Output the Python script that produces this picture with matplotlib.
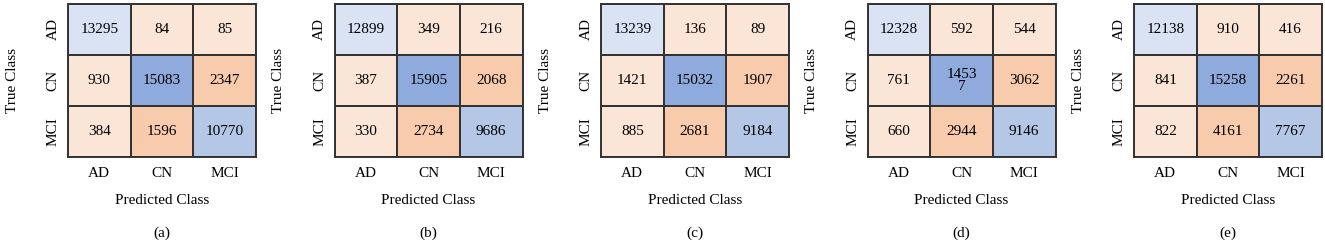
import numpy as np
import matplotlib
matplotlib.use("Agg")
import matplotlib.pyplot as plt
from matplotlib.colors import ListedColormap, BoundaryNorm

plt.rcParams['font.family'] = ['Liberation Serif', 'DejaVu Serif']

# ===== DATA =====
classes = ["AD", "CN", "MCI"]
panel_tags = ["(a)", "(b)", "(c)", "(d)", "(e)"]

cm_a = [[13295, 84, 85], [930, 15083, 2347], [384, 1596, 10770]]
cm_b = [[12899, 349, 216], [387, 15905, 2068], [330, 2734, 9686]]
cm_c = [[13239, 136, 89], [1421, 15032, 1907], [885, 2681, 9184]]
cm_d = [[12328, 592, 544], [761, 14537, 3062], [660, 2944, 9146]]
cm_e = [[12138, 910, 416], [841, 15258, 2261], [822, 4161, 7767]]
matrices = [cm_a, cm_b, cm_c, cm_d, cm_e]

# shade tiers: off-diagonal by size, diagonal fixed per class (as in the original)
cell_colors = ["#fbe5d6", "#f8cbad", "#dae3f3", "#b4c7e7", "#8faadc"]
diag_tier = [2, 4, 3]
err_split = 1500

cmap = ListedColormap(cell_colors)
norm = BoundaryNorm(np.arange(-0.5, 5.5, 1), cmap.N)

W, H = 1325, 244
fig = plt.figure(figsize=(W / 100, H / 100), dpi=100)

for i, (cm, tag) in enumerate(zip(matrices, panel_tags)):
    cm = np.array(cm)
    tiers = np.where(cm >= err_split, 1, 0)
    for k in range(3):
        tiers[k, k] = diag_tier[k]

    left = 68 + i * 266.5
    ax = fig.add_axes([left / W, 87 / H, 188 / W, 153 / H])
    ax.pcolormesh(tiers, cmap=cmap, norm=norm, edgecolors="#333333", linewidth=1.4)
    ax.set_xlim(0, 3)
    ax.set_ylim(3, 0)

    for r in range(3):
        for c in range(3):
            txt = str(cm[r, c])
            if len(txt) > 4 and r == c == 1 and i == 3:
                txt = txt[:4] + "\n" + txt[4:]  # wrapped cell in the original
            ax.text(c + 0.5, r + 0.5, txt, ha="center", va="center",
                    fontsize=11, linespacing=0.95)

    ax.set_xticks(np.arange(3) + 0.5)
    ax.set_xticklabels(classes, fontsize=11)
    ax.set_yticks(np.arange(3) + 0.5)
    ax.set_yticklabels(classes, fontsize=11, rotation=90, va="center")
    ax.tick_params(length=0, pad=7)
    ax.tick_params(axis="y", pad=6)
    for s in ax.spines.values():
        s.set_color("#333333")
        s.set_linewidth(1.4)

    ax.set_xlabel("Predicted Class", fontsize=11, labelpad=10)
    ax.set_ylabel("True Class", fontsize=11, labelpad=20)
    fig.text((left + 94) / W, 1 - 233 / H, tag, ha="center", va="center", fontsize=11)

fig.savefig("out.png", dpi=100)
